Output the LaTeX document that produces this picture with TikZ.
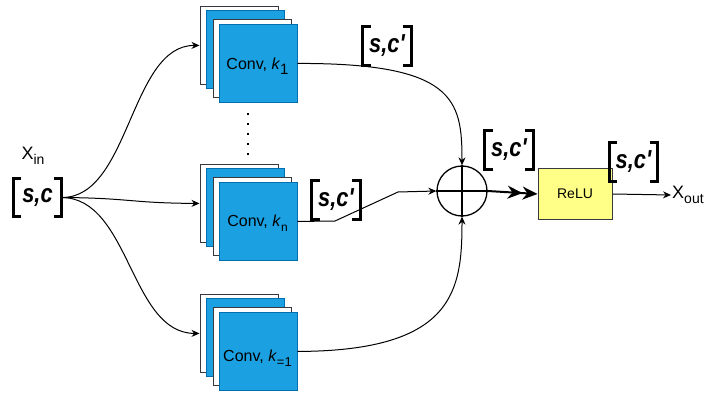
\documentclass[tikz,border=0pt]{standalone}
\usepackage{fontspec}
\setmainfont{Liberation Sans}
\usetikzlibrary{arrows.meta,calc}
\definecolor{cblue}{HTML}{1BA1E2}
\definecolor{cbluedk}{HTML}{006EAF}
\definecolor{cyel}{HTML}{FFFF88}
\definecolor{cgray}{HTML}{36393D}
\newcommand\fs[1]{\fontsize{#1}{#1}\selectfont}
\newcommand\lowsub[2]{\raisebox{-0.3em}{\fs{#1}#2}}
\newcommand\brktext[1]{\scalebox{0.84}[1]{#1}}
\newcommand\bracketsof[1]{%
  \draw[brkline] ([xshift=8pt]#1.north west) -- (#1.north west) -- (#1.south west) -- ([xshift=8pt]#1.south west);
  \draw[brkline] ([xshift=-8pt]#1.north east) -- (#1.north east) -- (#1.south east) -- ([xshift=-8pt]#1.south east);}
\newcommand\convstack[5]{% name, x, y, label, text y offset
  \node[layerw,anchor=north west] (#1b) at (#2,#3) {};
  \node[layerb,anchor=north west] (#1c) at ({#2+6},{#3+4}) {};
  \node[layerw,anchor=north west] (#1d) at ({#2+13},{#3+13}) {};
  \node[layerb,anchor=north west] (#1) at ({#2+19},{#3+18}) {};
  \node[convtext] (#1t) at ({#2+19+39},{#3+18+39+#5}) {#4};}
\tikzset{
  layerw/.style={draw=cgray, fill=white, line width=0.9pt, minimum width=78pt, minimum height=78pt, inner sep=0pt},
  layerb/.style={draw=cbluedk, fill=cblue, line width=0.9pt, minimum width=78pt, minimum height=78pt, inner sep=0pt},
  convtext/.style={font=\fs{16}, inner sep=0pt},
  brk/.style={minimum width=48pt, minimum height=38pt, inner sep=0pt, font=\fs{26}\bfseries\itshape},
  brkline/.style={line width=3pt, miter limit=10},
  arr/.style={-{Stealth[length=8pt,width=7pt]}, line width=1pt},
  con/.style={line width=1pt},
}
\begin{document}
\begin{tikzpicture}[x=1pt,y=-1pt]
\useasboundingbox (0,0) rectangle (708,395);
% input
\node[font=\fs{18}, inner sep=0pt] (xin) at (33,156) {X\lowsub{14}{in}};
\node[brk] (in) at (37.5,197.5) {\brktext{s,c}};
\bracketsof{in}
% stacks
\convstack{s1}{199.5}{6}{Conv, \textit{k}\lowsub{15}{1}}{3}
\convstack{s2}{199.5}{164}{Conv, \textit{k}\lowsub{12}{n}}{2}
\convstack{s3}{199.5}{294}{Conv, \textit{k}\lowsub{13}{=1}}{7}
% dots
\foreach \yy in {114,124,134,144,154}
  \fill (247.3,\yy-1) rectangle (249.3,\yy+1);
% inputs to stacks
\draw[arr] (in.east) .. controls (130,198) and (130,45) .. (s1b.west);
\draw[arr] (in.east) .. controls (130,198) and (130,203) .. (s2b.west);
\draw[arr] (in.east) .. controls (130,198) and (130,333) .. (s3b.west);
% sum node
\node[draw, circle, line width=1.3pt, minimum size=50pt, inner sep=0pt] (sum) at (462,191) {};
\draw[line width=1.3pt] (sum.north) -- (sum.south) (sum.west) -- (sum.east);
% stack outputs to sum
\draw[arr] (s1.east) .. controls (455,63) and (462,100) .. (sum.north);
\draw[arr] (s3.east) .. controls (455,351) and (462,290) .. (sum.south);
\draw[arr] (s2.east) -- (335,221) -- (398,192) -- (sum.west);
% brackets
\node[brk] (b1) at (387,46) {\brktext{s,c\textquotesingle}};
\bracketsof{b1}
\node[brk] (b2) at (336,200) {\brktext{s,c\textquotesingle}};
\bracketsof{b2}
\node[brk] (b3) at (509,150) {\brktext{s,c\textquotesingle}};
\bracketsof{b3}
% relu
\node[draw=cgray, fill=cyel, line width=1pt, minimum width=74pt, minimum height=50pt, inner sep=0pt, font=\fs{14}] (relu) at (575,194) {ReLU};
\draw[line width=2pt, -{Stealth[length=15pt,width=13pt]Stealth[length=15pt,width=13pt]}] (sum.east) -- (relu.west);
\node[brk] (b4) at (633.5,162) {\brktext{s,c\textquotesingle}};
\bracketsof{b4}
% output
\node[font=\fs{18}, inner sep=1pt, anchor=west] (xout) at (671,195) {X\lowsub{14}{out}};
\draw[arr] (relu.east) -- (xout.west);
\end{tikzpicture}
\end{document}
